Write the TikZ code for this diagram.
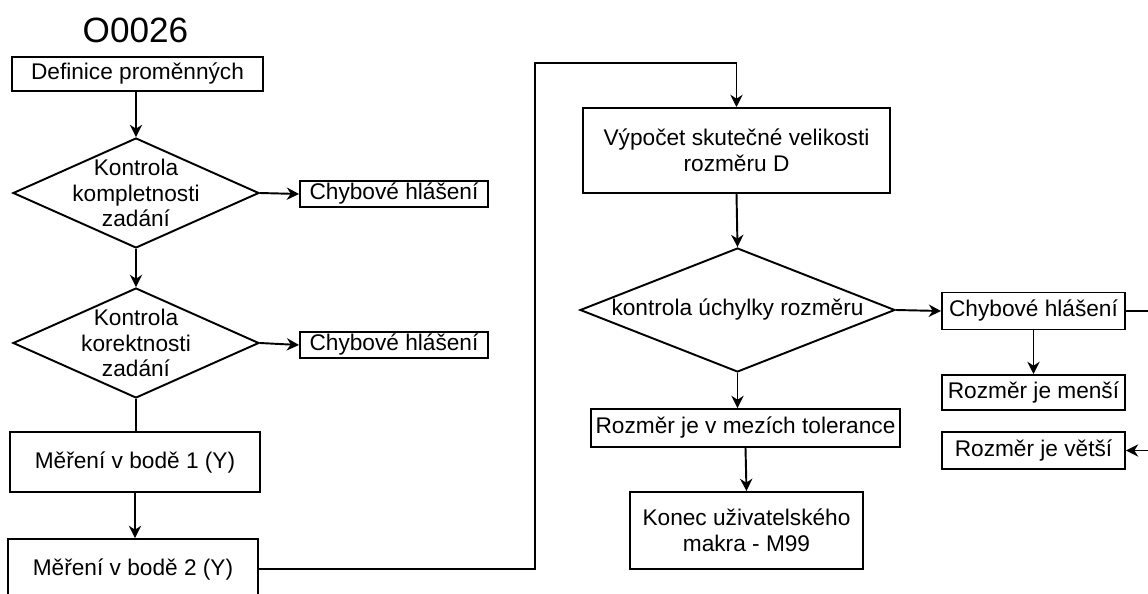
\documentclass[tikz,border=0pt]{standalone}
\usepackage{fontspec}
\setmainfont{Liberation Sans}
\usetikzlibrary{shapes.geometric,arrows.meta}
\tikzset{
	every node/.style={font=\fontsize{12.9}{14.6}\selectfont},
	blok/.style={draw=black, line width=1.1pt, fill=white, align=center, inner sep=0pt},
	rozhodnuti/.style={draw=black, line width=1.1pt, shape=diamond, inner sep=0pt},
	sipka/.style={line width=1.1pt, -{Stealth[length=7pt, width=7pt]}},
	cara/.style={line width=1.1pt},
}
\begin{document}
\begin{tikzpicture}[x=0.02cm, y=-0.02cm]
	\useasboundingbox (0,0) rectangle (1148,594);
	\clip (0,0) rectangle (1148,594);
	% Nadpis
	\node[font=\fontsize{20}{22}\selectfont] (nadpis) at (135.5,30) {O0026};
	% Levy sloupec
	\node[blok, minimum width=5.02cm, minimum height=0.68cm] (definice) at (137.5,74) {Definice proměnných};
	\node[rozhodnuti, minimum width=4.92cm, minimum height=2.2cm,
		label={[align=center]center:Kontrola\\kompletnosti\\zadání}] (komplet) at (136,193) {};
	\node[blok, minimum width=3.76cm, minimum height=0.52cm] (chyba1) at (394,194) {Chybové hlášení};
	\node[rozhodnuti, minimum width=4.92cm, minimum height=2.2cm,
		label={[align=center]center:Kontrola\\korektnosti\\zadání}] (korekt) at (136,343) {};
	\node[blok, minimum width=3.76cm, minimum height=0.52cm] (chyba2) at (394,345) {Chybové hlášení};
	\node[blok, minimum width=5cm, minimum height=1.2cm] (mereni1) at (135,462) {Měření v bodě 1 (Y)};
	\node[blok, minimum width=5cm, minimum height=1.2cm] (mereni2) at (133,569) {Měření v bodě 2 (Y)};
	% Pravy sloupec
	\node[blok, minimum width=6.14cm, minimum height=1.7cm] (vypocet) at (736.5,150.5) {Výpočet skutečné velikosti\\rozměru D};
	\node[rozhodnuti, minimum width=6.3cm, minimum height=2.48cm,
		label={[align=center]center:kontrola úchylky rozměru}] (uchylka) at (737.5,310) {};
	\node[blok, minimum width=6.18cm, minimum height=0.76cm] (tolerance) at (745.5,428) {Rozměr je v mezích tolerance};
	\node[blok, minimum width=4.66cm, minimum height=1.54cm] (konec) at (746.5,530.5) {Konec uživatelského\\makra - M99};
	\node[blok, minimum width=3.66cm, minimum height=0.74cm] (chyba3) at (1033.5,311) {Chybové hlášení};
	\node[blok, minimum width=3.66cm, minimum height=0.7cm] (mensi) at (1033.5,392.5) {Rozměr je menší};
	\node[blok, minimum width=3.66cm, minimum height=0.74cm] (vetsi) at (1033.5,450.5) {Rozměr je větší};
	\coordinate (ohyb) at (535,63);
	\coordinate (ven) at (1170,311);
	\coordinate (zvenku) at (1170,450.5);
	% Spojnice
	\draw[sipka] (definice.south -| komplet.north) -- (komplet.north);
	\draw[sipka] (komplet.east) -- (chyba1.west);
	\draw[sipka] (komplet.south) -- (korekt.north);
	\draw[sipka] (korekt.east) -- (chyba2.west);
	\draw[cara] (korekt.south) -- (korekt.south |- mereni1.north);
	\draw[sipka] (mereni1.south) -- (mereni1.south |- mereni2.north);
	\draw[sipka] (mereni2.east) -| (ohyb) -| (vypocet.north);
	\draw[sipka] (vypocet.south) -- (uchylka.north);
	\draw[sipka] (uchylka.south) -- (uchylka.south |- tolerance.north);
	\draw[sipka] (tolerance.south) -- (konec.north);
	\draw[sipka] (uchylka.east) -- (chyba3.west);
	\draw[sipka] (chyba3.south) -- (mensi.north);
	\draw[cara] (chyba3.east) -- (ven);
	\draw[sipka] (zvenku) -- (vetsi.east);
\end{tikzpicture}
\end{document}
